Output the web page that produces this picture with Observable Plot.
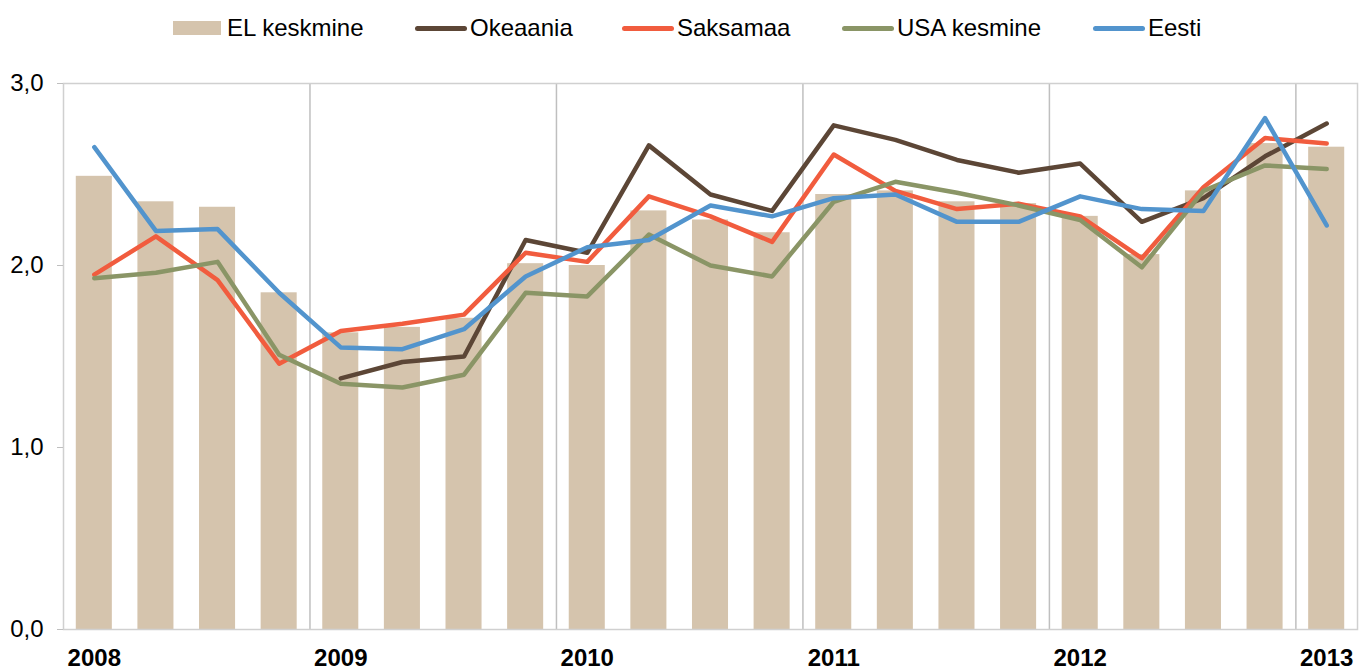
<!DOCTYPE html>
<html>
<head>
<meta charset="utf-8">
<script src="https://cdn.jsdelivr.net/npm/d3@7"></script>
<script src="https://cdn.jsdelivr.net/npm/@observablehq/plot@0.6"></script>
<style>
  html, body { margin: 0; padding: 0; background: #fff; }
  body { width: 1369px; height: 672px; position: relative; font-family: "Liberation Sans", Arial, sans-serif; }
  #legend { position: absolute; left: 0; top: 14px; width: 1369px; height: 28px; font-size: 24px; line-height: 28px; color: #000; white-space: nowrap; }
  .item { position: absolute; top: 0; height: 28px; display: flex; align-items: center; }
  .sw-bar { width: 48px; height: 14px; margin-right: 6px; }
  .sw-line { width: 52px; height: 5px; border-radius: 3px; margin-right: 3px; }
  #chart { position: absolute; left: 0; top: 50px; }
</style>
</head>
<body>
<div id="legend"></div>
<div id="chart"></div>
<script>
const quarters = ["2008Q1","2008Q2","2008Q3","2008Q4","2009Q1","2009Q2","2009Q3","2009Q4","2010Q1","2010Q2","2010Q3","2010Q4","2011Q1","2011Q2","2011Q3","2011Q4","2012Q1","2012Q2","2012Q3","2012Q4","2013Q1"];
const elKeskmine = [2.49,2.35,2.32,1.85,1.63,1.66,1.71,2.01,2.00,2.30,2.25,2.18,2.39,2.41,2.35,2.34,2.27,2.06,2.41,2.67,2.65];
const okeaania   = [null,null,null,null,1.38,1.47,1.50,2.14,2.07,2.66,2.39,2.30,2.77,2.69,2.58,2.51,2.56,2.24,2.37,2.60,2.78];
const saksamaa   = [1.95,2.16,1.92,1.46,1.64,1.68,1.73,2.07,2.02,2.38,2.27,2.13,2.61,2.41,2.31,2.34,2.27,2.04,2.43,2.70,2.67];
const usaKesmine = [1.93,1.96,2.02,1.51,1.35,1.33,1.40,1.85,1.83,2.17,2.00,1.94,2.35,2.46,2.40,2.33,2.25,1.99,2.41,2.55,2.53];
const eesti      = [2.65,2.19,2.20,1.85,1.55,1.54,1.65,1.94,2.10,2.14,2.33,2.27,2.37,2.39,2.24,2.24,2.38,2.31,2.30,2.81,2.22];
const yearTicks = ["2008Q1","2009Q1","2010Q1","2011Q1","2012Q1","2013Q1"];
const separators = ["2009Q1","2010Q1","2011Q1","2012Q1","2013Q1"];
const yTicks = [0,1,2,3];

const colors = {
  el: "#d5c4ad",
  okeaania: "#5c4636",
  saksamaa: "#f15c3e",
  usa: "#8a9566",
  eesti: "#5294cd"
};

const lineSeries = [
  {name: "Okeaania", values: okeaania, color: colors.okeaania},
  {name: "Saksamaa", values: saksamaa, color: colors.saksamaa},
  {name: "USA kesmine", values: usaKesmine, color: colors.usa},
  {name: "Eesti", values: eesti, color: colors.eesti}
];

const barData = quarters.map((q, i) => ({q, v: elKeskmine[i]}));

// legend (item left edges as in the reference)
const legendLeft = [173, 415, 622, 842, 1093];
const legend = document.getElementById("legend");
{
  const it = document.createElement("div"); it.className = "item"; it.style.left = legendLeft[0] + "px";
  it.innerHTML = `<div class="sw-bar" style="background:${colors.el}"></div><span>EL keskmine</span>`;
  legend.appendChild(it);
}
lineSeries.forEach((s, i) => {
  const it = document.createElement("div"); it.className = "item"; it.style.left = legendLeft[i + 1] + "px";
  it.innerHTML = `<div class="sw-line" style="background:${s.color}"></div><span>${s.name}</span>`;
  legend.appendChild(it);
});

const width = 1369, height = 622;
const marginLeft = 63, marginRight = 12, marginTop = 33, marginBottom = 43;
const step = (width - marginLeft - marginRight) / quarters.length;

const marks = [
  Plot.barY(barData, {x: "q", y: "v", fill: colors.el}),
  Plot.ruleX(separators, {x: d => d, dx: -step / 2, stroke: "#bfbfbf", strokeWidth: 1.5}),
  Plot.frame({stroke: "#d0d0d0", strokeWidth: 1.5}),
  Plot.axisY({ticks: yTicks, tickSize: 6, tickPadding: 14, stroke: "#bfbfbf", fill: "#000", fontSize: 24,
    tickFormat: d => d.toFixed(1).replace(".", ","), label: null}),
  Plot.axisX({ticks: yearTicks, tickSize: 0, tickPadding: 19, fill: "#000", fontSize: 24, fontWeight: "bold",
    tickFormat: d => d.slice(0, 4), label: null})
];
for (const s of lineSeries) {
  const data = quarters.map((q, i) => ({q, v: s.values[i]}));
  marks.push(Plot.lineY(data, {x: "q", y: "v", stroke: s.color, strokeWidth: 4.5, strokeLinecap: "round", strokeLinejoin: "round"}));
}

const chart = Plot.plot({
  width, height, marginLeft, marginRight, marginTop, marginBottom,
  style: {fontFamily: "'Liberation Sans', Arial, sans-serif", fontSize: "24px", background: "#fff", color: "#000"},
  x: {domain: quarters, paddingInner: 0.415, paddingOuter: 0.2075, round: false, axis: null},
  y: {domain: [0, 3], axis: null},
  marks
});
document.getElementById("chart").appendChild(chart);
</script>
</body>
</html>
